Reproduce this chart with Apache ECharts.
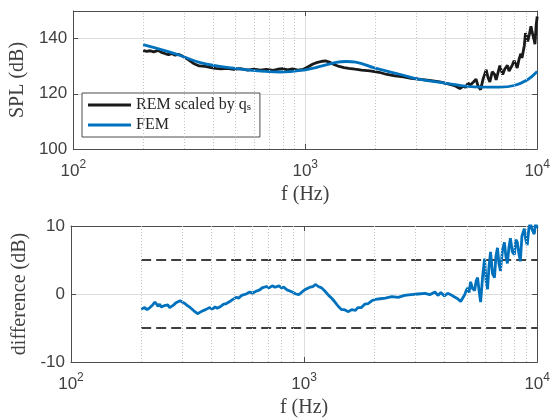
<!DOCTYPE html>
<html>
<head>
<meta charset="utf-8">
<script src="https://cdn.jsdelivr.net/npm/echarts@6/dist/echarts.min.js"></script>
<style>
  html, body { margin: 0; padding: 0; background: #fff; }
  #chart { width: 553px; height: 419px; }
</style>
</head>
<body>
<div id="chart"></div>
<script>
// REM scaled by qs (black, top panel)
const remFreq = [200, 207, 215, 222, 233, 240, 250, 258, 266, 275, 284, 298, 314, 330, 349, 370,
  393, 410, 433, 460, 492, 525, 565, 600, 641, 680, 728, 760, 800, 840, 880, 930,
  977, 1030, 1080, 1130, 1190, 1230, 1270, 1330, 1400, 1470, 1540, 1640, 1750, 1900, 2080, 2250,
  2440, 2650, 2860, 3150, 3490, 3800, 4130, 4400, 4640, 4800, 4900, 5050, 5120, 5200, 5300, 5450,
  5550, 5700, 5850, 6030, 6130, 6250, 6400, 6550, 6650, 6750, 6900, 7000, 7100, 7250, 7440, 7560,
  7700, 7820, 7950, 8100, 8200, 8350, 8500, 8600, 8700, 8800, 8900, 9000, 9100, 9250, 9400, 9500,
  9600, 9700, 9780, 9850, 9900, 10000]
const remSpl = [135.7, 135.4, 135.6, 135.2, 135.7, 135.0, 134.5, 134.2, 134.6, 134.0, 134.3, 133.5, 132.3, 131.0, 130.1, 129.9,
  129.5, 129.2, 129.0, 129.2, 128.9, 129.1, 128.6, 128.9, 128.6, 128.8, 128.5, 128.9, 129.1, 128.7, 129.0, 128.6,
  128.8, 129.8, 130.8, 131.4, 131.8, 131.9, 131.5, 130.6, 129.9, 129.5, 129.2, 128.9, 128.6, 128.3, 127.8, 127.0,
  126.5, 126.1, 125.6, 125.2, 124.8, 124.3, 123.6, 123.0, 121.9, 122.8, 122.3, 124.0, 123.0, 122.6, 124.2, 125.3,
  123.0, 121.5, 125.5, 128.7, 126.0, 124.3, 128.0, 127.0, 125.0, 124.8, 130.2, 128.5, 127.0, 129.0, 130.3, 128.2,
  127.9, 130.5, 132.0, 130.5, 129.4, 132.5, 134.5, 133.0, 132.8, 137.5, 142.0, 140.5, 139.0, 141.5, 144.5, 142.5,
  141.0, 139.5, 138.0, 142.0, 145.0, 148.0]

// FEM (blue, top panel)
const femFreq = [200, 280, 356, 490, 700, 780, 1000, 1160, 1360, 1500, 1650, 2000, 2600, 3070, 4000, 4700,
  5700, 6900, 7950, 9080, 10000]
const femSpl = [137.8, 134.3, 131.2, 129.3, 128.0, 127.9, 128.7, 129.9, 131.4, 131.7, 131.5, 129.3, 126.9, 125.3, 123.9, 123.0,
  122.4, 122.4, 123.0, 125.1, 128.1]

// difference (bottom panel)
const diffFreq = [200, 207, 212, 218, 224, 229, 233, 236, 240, 244, 247, 252, 256, 260, 265, 270,
  276, 282, 287, 294, 301, 308, 315, 322, 330, 340, 349, 357, 366, 378, 392, 405,
  415, 424, 440, 452, 464, 480, 495, 511, 525, 540, 564, 585, 600, 622, 645, 660,
  673, 690, 707, 730, 750, 780, 800, 820, 845, 861, 890, 922, 949, 980, 1016, 1060,
  1090, 1121, 1150, 1189, 1230, 1274, 1320, 1365, 1400, 1447, 1490, 1550, 1600, 1661, 1700, 1761,
  1820, 1886, 1950, 2020, 2120, 2228, 2380, 2532, 2700, 2876, 3080, 3300, 3460, 3640, 3750, 3861,
  4000, 4130, 4258, 4400, 4560, 4696, 4885, 4960, 5030, 5100, 5180, 5280, 5390, 5470, 5550, 5630,
  5717, 5830, 5945, 6030, 6123, 6210, 6306, 6430, 6558, 6650, 6754, 6850, 6956, 7100, 7233, 7340,
  7450, 7560, 7673, 7820, 7980, 8100, 8218, 8340, 8464, 8600, 8802, 8930, 9066, 9200, 9336, 9500,
  9710, 9850, 10000]
const diffDb = [-2.2, -2.0, -2.3, -2.0, -1.6, -1.2, -1.5, -1.8, -1.5, -1.9, -2.1, -1.7, -1.9, -1.6, -2.0, -2.2,
  -1.6, -1.3, -1.2, -1.0, -1.2, -1.4, -1.7, -1.9, -2.2, -2.6, -2.9, -2.7, -2.5, -2.3, -2.0, -2.2,
  -1.9, -2.1, -1.8, -1.5, -1.4, -1.1, -0.8, -0.5, -0.6, -0.2, 0.0, 0.3, 0.1, 0.4, 0.6, 0.9,
  0.8, 1.1, 0.9, 1.2, 1.0, 1.2, 0.9, 1.0, 0.6, 0.7, 0.3, 0.0, -0.1, 0.3, 0.7, 1.0,
  1.1, 1.4, 1.1, 0.9, 0.4, -0.2, -0.7, -1.3, -1.8, -2.3, -2.3, -2.6, -2.3, -2.4, -2.0, -2.0,
  -1.5, -1.4, -1.0, -0.8, -0.7, -0.6, -0.4, -0.5, -0.2, -0.1, 0.0, 0.1, -0.1, 0.3, -0.2, 0.2,
  -0.3, 0.1, -0.1, -0.4, -0.7, -1.1, -0.1, 0.5, 0.9, 0.2, 1.8, 0.8, 0.5, 1.9, 2.4, 0.5,
  -1.2, 2.5, 5.2, 2.0, 0.7, 4.0, 6.2, 3.0, 2.4, 5.5, 6.8, 4.5, 3.4, 6.5, 7.6, 5.5,
  4.5, 6.8, 8.2, 6.2, 5.8, 8.0, 7.6, 6.0, 4.8, 8.5, 9.6, 8.0, 7.2, 9.5, 10.5, 9.5,
  8.8, 10.5, 9.7]

// +-5 dB reference lines
const limitFreq = [200, 10000]
const upperLimit = [5, 5]
const lowerLimit = [-5, -5]

// dotted minor grid (log decades)
const minorGrid = [200, 300, 400, 500, 600, 700, 800, 900, 2000, 3000, 4000, 5000, 6000, 7000, 8000, 9000]

const zip = (xs, ys) => xs.map((x, i) => [x, ys[i]])

const textColor = '#404040'
const axisColor = '#4d4d4d'
const serif = '"Liberation Serif", "DejaVu Serif", serif'
const sans = '"Liberation Sans", Arial, sans-serif'

const xLabelRich = {
  b: { fontSize: 17, fontFamily: sans, color: textColor, verticalAlign: 'bottom' },
  e: { fontSize: 12, fontFamily: sans, color: textColor, verticalAlign: 'bottom', padding: [0, 0, 9, 0] }
}

const makeX = (gridIndex) => ({
  type: 'log',
  logBase: 10,
  gridIndex: gridIndex,
  min: 100,
  max: 10000,
  name: 'f (Hz)',
  nameLocation: 'middle',
  nameGap: 36,
  nameTextStyle: { fontFamily: serif, fontSize: 20, color: textColor },
  axisLine: { show: true, onZero: false, lineStyle: { color: axisColor, width: 1 } },
  axisTick: { show: true, inside: true, length: 5, lineStyle: { color: axisColor } },
  minorTick: { show: false },
  axisLabel: {
    margin: 10,
    formatter: (v) => '{b|10}{e|' + Math.round(Math.log10(v)) + '}',
    rich: xLabelRich
  },
  splitLine: { show: true, lineStyle: { color: '#dedede', width: 1 } }
})

const makeXTop = (gridIndex) => ({
  type: 'log',
  logBase: 10,
  gridIndex: gridIndex,
  position: 'top',
  min: 100,
  max: 10000,
  axisLine: { show: true, onZero: false, lineStyle: { color: axisColor, width: 1 } },
  axisTick: { show: true, inside: true, length: 5, lineStyle: { color: axisColor } },
  axisLabel: { show: false },
  splitLine: { show: false }
})

const makeY = (gridIndex, min, max, interval, name) => ({
  type: 'value',
  gridIndex: gridIndex,
  min: min,
  max: max,
  interval: interval,
  name: name,
  nameLocation: 'middle',
  nameGap: 41,
  nameTextStyle: { fontFamily: serif, fontSize: 20, color: textColor },
  axisLine: { show: true, onZero: false, lineStyle: { color: axisColor, width: 1 } },
  axisTick: { show: true, inside: true, length: 5, lineStyle: { color: axisColor } },
  axisLabel: { fontFamily: sans, fontSize: 17, color: textColor, margin: 6, showMaxLabel: gridIndex === 1 },
  splitLine: { show: true, lineStyle: { color: '#dedede', width: 1 } }
})

const makeYRight = (gridIndex, min, max, interval) => ({
  type: 'value',
  gridIndex: gridIndex,
  position: 'right',
  min: min,
  max: max,
  interval: interval,
  axisLine: { show: true, onZero: false, lineStyle: { color: axisColor, width: 1 } },
  axisTick: { show: true, inside: true, length: 5, lineStyle: { color: axisColor } },
  axisLabel: { show: false },
  splitLine: { show: false }
})

const minorGridSeries = (idx) => ({
  type: 'line',
  xAxisIndex: idx,
  yAxisIndex: idx,
  data: [],
  silent: true,
  z: 1,
  markLine: {
    silent: true,
    symbol: 'none',
    label: { show: false },
    lineStyle: { color: '#c4c4c4', width: 1, type: [1, 2] },
    data: minorGrid.map(f => ({ xAxis: f }))
  }
})

const chart = echarts.init(document.getElementById('chart'), null, { renderer: 'canvas' })

chart.setOption({
  animation: false,
  backgroundColor: '#fff',
  grid: [
    { left: 71, right: 13, top: 11, height: 138 },
    { left: 71, right: 13, top: 226, height: 139 }
  ],
  legend: {
    data: ['REM', 'FEM'],
    orient: 'vertical',
    left: 82,
    top: 93,
    padding: [4, 9, 4, 6],
    itemGap: 4,
    itemWidth: 43,
    itemHeight: 3,
    icon: 'rect',
    backgroundColor: '#fff',
    borderColor: axisColor,
    borderWidth: 1,
    borderRadius: 0,
    formatter: (name) => name === 'REM' ? '{a|REM scaled by q}{s|s}' : '{a|FEM}',
    textStyle: {
      rich: {
        a: { fontFamily: serif, fontSize: 16, color: '#262626', lineHeight: 15 },
        s: { fontFamily: serif, fontSize: 11, color: '#262626', verticalAlign: 'bottom', lineHeight: 15 }
      }
    }
  },
  xAxis: [makeX(0), makeX(1), makeXTop(0), makeXTop(1)],
  yAxis: [
    makeY(0, 100, 150, 20, 'SPL (dB)'),
    makeY(1, -10, 10, 10, 'difference (dB)'),
    makeYRight(0, 100, 150, 20),
    makeYRight(1, -10, 10, 10)
  ],
  series: [
    minorGridSeries(0),
    minorGridSeries(1),
    {
      name: 'REM',
      type: 'line',
      xAxisIndex: 0,
      yAxisIndex: 0,
      data: zip(remFreq, remSpl),
      showSymbol: false,
      lineStyle: { color: '#1a1a1a', width: 2.8 },
      itemStyle: { color: '#1a1a1a' },
      z: 3
    },
    {
      name: 'FEM',
      type: 'line',
      xAxisIndex: 0,
      yAxisIndex: 0,
      data: zip(femFreq, femSpl),
      smooth: 0.4,
      showSymbol: false,
      lineStyle: { color: '#0072BD', width: 2.8 },
      itemStyle: { color: '#0072BD' },
      z: 4
    },
    {
      name: 'upper',
      type: 'line',
      xAxisIndex: 1,
      yAxisIndex: 1,
      data: zip(limitFreq, upperLimit),
      showSymbol: false,
      lineStyle: { color: '#000', width: 1.4, type: [10, 5] },
      z: 3
    },
    {
      name: 'lower',
      type: 'line',
      xAxisIndex: 1,
      yAxisIndex: 1,
      data: zip(limitFreq, lowerLimit),
      showSymbol: false,
      lineStyle: { color: '#000', width: 1.4, type: [10, 5] },
      z: 3
    },
    {
      name: 'diff',
      type: 'line',
      xAxisIndex: 1,
      yAxisIndex: 1,
      data: zip(diffFreq, diffDb),
      showSymbol: false,
      lineStyle: { color: '#0072BD', width: 2.8 },
      itemStyle: { color: '#0072BD' },
      z: 4
    }
  ]
})
</script>
</body>
</html>
